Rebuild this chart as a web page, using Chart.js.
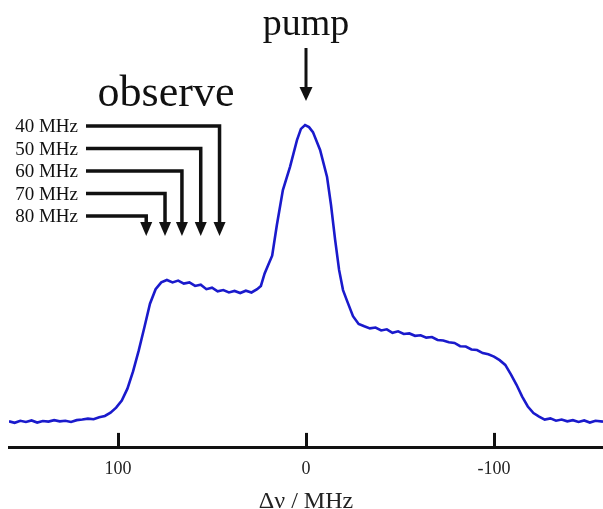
<!DOCTYPE html>
<html>
<head>
<meta charset="utf-8">
<script src="https://cdn.jsdelivr.net/npm/chart.js@4.4.0/dist/chart.umd.min.js"></script>
<style>
  html, body { margin: 0; padding: 0; background: #fff; }
  #wrap { width: 603px; height: 509px; }
</style>
</head>
<body>
<div id="wrap"><canvas id="spectrum"></canvas></div>
<script>
// detuning (MHz) and normalised signal
const freq = [158, 155, 152, 149, 146, 143, 140, 137, 134, 131, 128, 125, 122, 119, 116, 113, 110, 107, 104, 101,
  98, 95, 92, 89, 86, 83, 80, 77, 74, 71, 68, 65, 62, 59, 56, 53, 50, 47, 44, 41, 38, 35, 32, 29, 26, 24, 22, 20, 18,
  15.5, 12.3, 8.5, 4.8, 2.7, 0.5, -1.6, -3.7, -7.5, -11.2, -13.3, -15.5, -17.6, -19.7, -22, -25, -28, -31, -34, -37,
  -40, -43, -46, -49, -52, -55, -58, -61, -64, -67, -70, -73, -76, -79, -82, -85, -88, -91, -94, -97, -100, -103,
  -106, -109, -112, -115, -118, -121, -124, -127, -130, -133, -136, -139, -142, -145, -148, -151, -154, -158];
const signal = [0.002, -0.003, 0.004, 0.000, 0.005, -0.002, 0.003, 0.001, 0.006, 0.002, 0.004, 0.000, 0.006, 0.008,
  0.011, 0.009, 0.016, 0.020, 0.031, 0.048, 0.072, 0.112, 0.170, 0.240, 0.318, 0.398, 0.447, 0.470, 0.478, 0.470,
  0.476, 0.466, 0.470, 0.458, 0.462, 0.447, 0.452, 0.440, 0.444, 0.436, 0.441, 0.434, 0.442, 0.436, 0.447, 0.458,
  0.500, 0.530, 0.560, 0.663, 0.781, 0.859, 0.949, 0.987, 1.000, 0.993, 0.976, 0.916, 0.825, 0.731, 0.613, 0.512,
  0.444, 0.405, 0.356, 0.330, 0.322, 0.315, 0.318, 0.308, 0.312, 0.300, 0.305, 0.296, 0.298, 0.290, 0.292, 0.284,
  0.286, 0.276, 0.274, 0.268, 0.266, 0.255, 0.254, 0.244, 0.242, 0.232, 0.228, 0.220, 0.208, 0.192, 0.160, 0.125,
  0.085, 0.052, 0.030, 0.018, 0.008, 0.012, 0.004, 0.008, 0.002, 0.006, 0.000, 0.005, -0.002, 0.004, 0.001];
const xTicks = [100, 0, -100];

// annotations
const pumpAt = 0;
const observeLabels = ['40 MHz', '50 MHz', '60 MHz', '70 MHz', '80 MHz'];
const observeAt = [46, 56, 66, 75, 85];

const SERIF = "'Liberation Serif', 'Times New Roman', serif";

function arrowHead(ctx, x, tipY, w, h) {
  ctx.beginPath();
  ctx.moveTo(x - w / 2, tipY - h);
  ctx.lineTo(x + w / 2, tipY - h);
  ctx.lineTo(x, tipY);
  ctx.closePath();
  ctx.fill();
}

const annotate = {
  id: 'annotate',
  afterDraw(chart) {
    const ctx = chart.ctx;
    const xs = chart.scales.x;
    const bottom = chart.chartArea.bottom;
    ctx.save();
    ctx.fillStyle = '#111';
    ctx.strokeStyle = '#111';

    // tick marks pointing up from the axis
    ctx.lineWidth = 3;
    xTicks.forEach(v => {
      const px = Math.round(xs.getPixelForValue(v)) + 0.5;
      ctx.beginPath();
      ctx.moveTo(px, bottom);
      ctx.lineTo(px, bottom - 15);
      ctx.stroke();
    });

    // pump
    const pumpX = xs.getPixelForValue(pumpAt);
    ctx.font = '38px ' + SERIF;
    ctx.textAlign = 'center';
    ctx.textBaseline = 'alphabetic';
    ctx.fillText('pump', pumpX, 35);
    ctx.lineWidth = 3;
    ctx.beginPath();
    ctx.moveTo(pumpX, 48);
    ctx.lineTo(pumpX, 90);
    ctx.stroke();
    arrowHead(ctx, pumpX, 101, 13, 14);

    // observe
    ctx.font = '44px ' + SERIF;
    ctx.fillText('observe', 166, 106);
    ctx.font = '19px ' + SERIF;
    ctx.textAlign = 'right';
    observeLabels.forEach((lab, i) => {
      const rowY = 126 + i * 22.5;
      const ax = xs.getPixelForValue(observeAt[i]);
      ctx.fillText(lab, 78, rowY + 6);
      ctx.lineWidth = 3.5;
      ctx.beginPath();
      ctx.moveTo(86, rowY);
      ctx.lineTo(ax, rowY);
      ctx.lineTo(ax, 224);
      ctx.stroke();
      arrowHead(ctx, ax, 236, 12, 14);
    });
    ctx.restore();
  }
};

new Chart(document.getElementById('spectrum'), {
  type: 'line',
  data: {
    datasets: [{
      data: freq.map((f, i) => ({ x: f, y: signal[i] })),
      borderColor: '#1a1acc',
      borderWidth: 2.6,
      pointRadius: 0,
      tension: 0,
      fill: false
    }]
  },
  options: {
    responsive: true,
    maintainAspectRatio: false,
    animation: false,
    layout: { padding: { left: 9, right: 0, top: 0, bottom: -7 } },
    plugins: { legend: { display: false }, tooltip: { enabled: false } },
    scales: {
      x: {
        type: 'linear',
        reverse: true,
        min: -158,
        max: 158,
        afterBuildTicks: s => { s.ticks = xTicks.map(v => ({ value: v })); },
        ticks: { font: { family: SERIF, size: 18, lineHeight: 0.85 }, color: '#222', padding: 14, maxRotation: 0 },
        grid: { display: false, drawTicks: false },
        border: { display: true, color: '#111', width: 3 },
        title: {
          display: true,
          text: 'Δν / MHz',
          font: { family: SERIF, size: 24 },
          color: '#222',
          padding: { top: -4, bottom: 0 }
        }
      },
      y: { display: false, min: -0.0875, max: 1.421 }
    }
  },
  plugins: [annotate]
});
</script>
</body>
</html>
